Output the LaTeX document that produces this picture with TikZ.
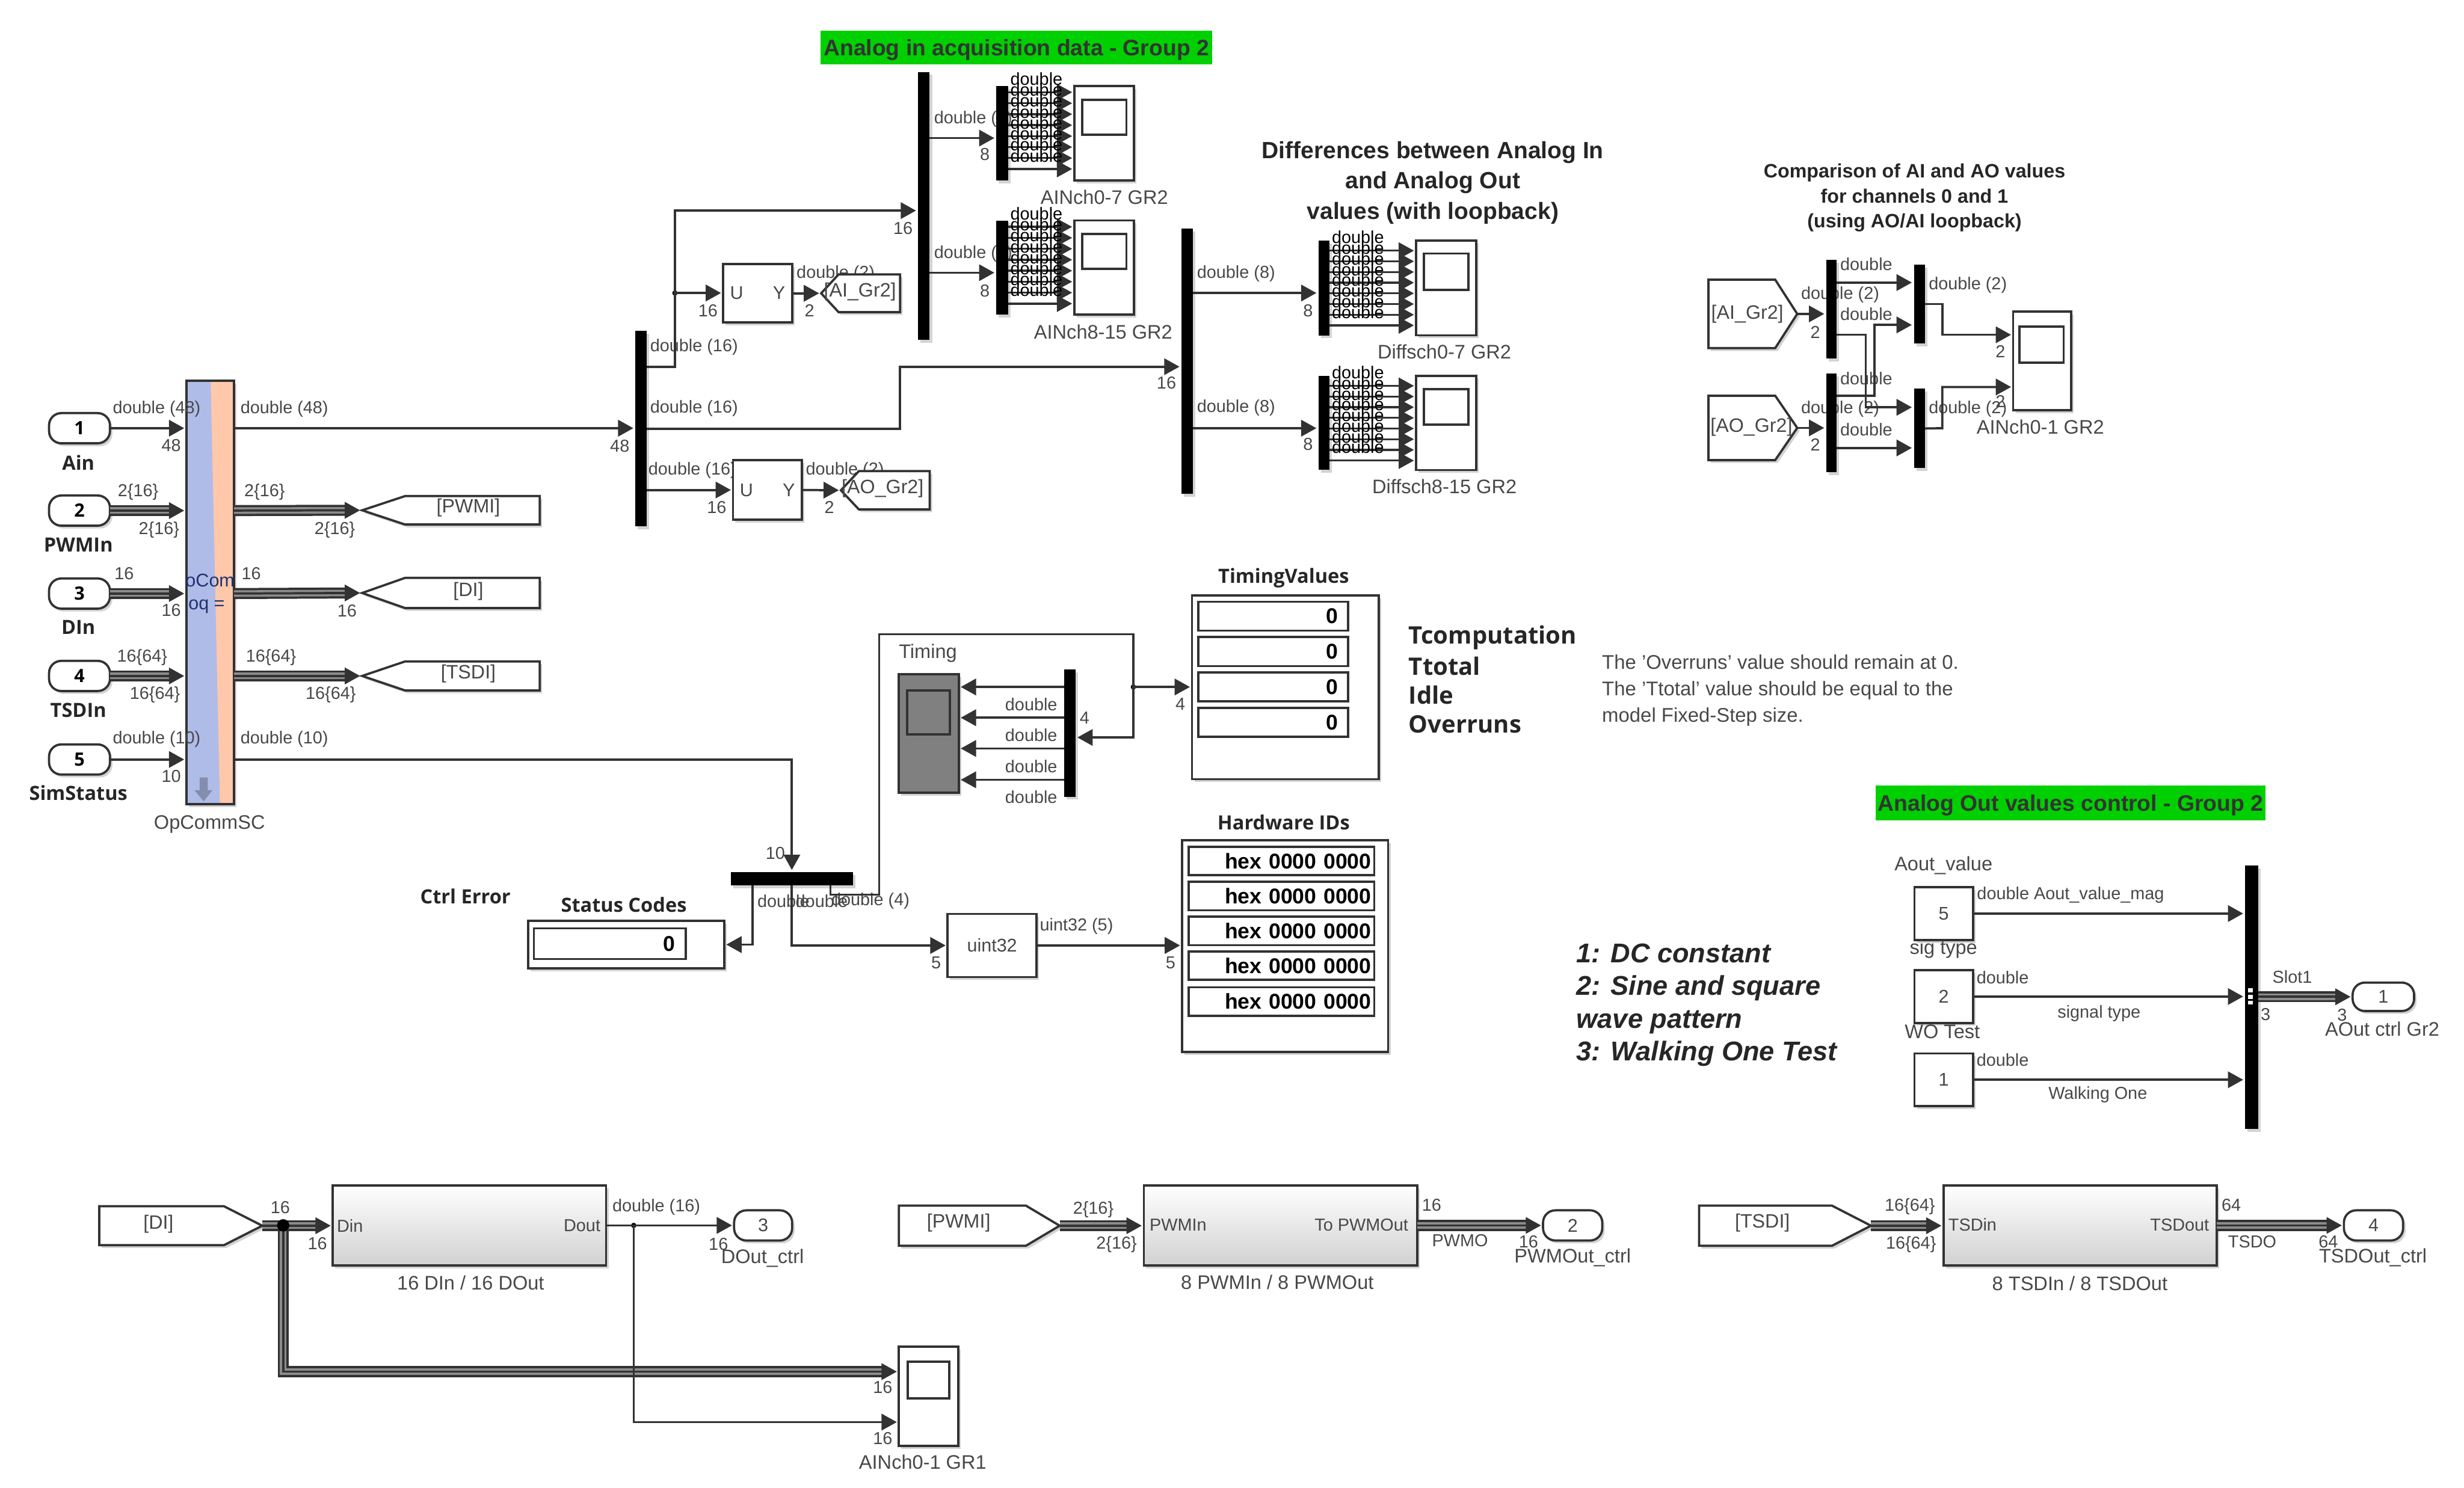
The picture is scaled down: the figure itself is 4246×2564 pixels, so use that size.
\documentclass[tikz,border=0pt]{standalone}
\usepackage{fontspec}
\setmainfont{Liberation Sans}
\newfontfamily\blockbold{Open Sans}
\usetikzlibrary{arrows.meta,calc,shadows}
\definecolor{wiregray}{RGB}{50,50,50}
\definecolor{labelgray}{RGB}{72,72,72}
\definecolor{flaggreen}{RGB}{0,208,0}
\definecolor{opblue}{RGB}{176,188,232}
\definecolor{oporange}{RGB}{255,200,170}
\definecolor{scopegray}{RGB}{128,128,128}
\definecolor{opnavy}{RGB}{30,50,110}
\tikzset{
  box/.style 2 args={minimum width={#1*0.01cm},minimum height={#2*0.01cm}},
  softshadow/.style={drop shadow={shadow xshift=1.2pt,shadow yshift=-1.4pt,opacity=.35}},
  block/.style={draw=wiregray,line width=1.1pt,fill=white,inner sep=0pt,outer sep=0pt,
    font=\fontsize{9}{11}\selectfont,text=labelgray,softshadow},
  subsys/.style={block,top color=white,middle color=white,bottom color=black!18},
  port/.style={block,rounded corners=6pt},
  bar/.style={fill=black,inner sep=0pt,outer sep=0pt,softshadow},
  cell/.style={draw=wiregray,line width=1.1pt,fill=white,inner sep=0pt,outer sep=0pt,
    align=right,text=black,font=\fontsize{10.5}{12}\bfseries\selectfont},
  screen/.style={draw=wiregray,line width=1.1pt,inner sep=0pt,outer sep=0pt,fill=white},
  jct/.style={circle,fill=black,inner sep=0pt,minimum size=2.6pt},
  wire/.style={draw=wiregray,line width=1.1pt,-{Triangle[length=7.5pt,width=8pt]},shorten >=1pt},
  fanwire/.style={wire,line width=1pt},
  plain/.style={draw=wiregray,line width=1.1pt},
  bus/.style={draw=wiregray,line width=5.4pt,
    postaction={draw=black!45,line width=3.2pt},
    postaction={draw=wiregray,line width=1.1pt}},
  sig/.style={inner sep=0pt,text=labelgray,font=\fontsize{8.5}{10}\selectfont},
  fansig/.style={sig,text=black},
  blockname/.style={sig,font=\fontsize{9.6}{11}\selectfont},
  tagtext/.style={sig,font=\fontsize{9.5}{11}\selectfont},
  tagline/.style={draw=wiregray,line width=1.1pt,fill=white,softshadow},
  boldname/.style={inner sep=0pt,text=black!85,font=\blockbold\bfseries\fontsize{9.6}{11}\selectfont},
  heading/.style={inner sep=0pt,align=center,text=black!85,font=\bfseries},
  flag/.style={fill=flaggreen,inner sep=0pt,text depth=0pt,text=black!80,font=\bfseries\fontsize{11}{13}\selectfont},
}
% goto and from tags: name, tip x, neck x, far x, top y, bottom y
\newcommand{\signaltag}[6]{
  \pgfmathsetmacro{\ymid}{(#5+#6)/2}
  \draw[tagline] (#2,\ymid) -- (#3,#5) -- (#4,#5) -- (#4,#6) -- (#3,#6) -- cycle;
  \coordinate (#1) at (#2,\ymid);
}
% three line bus with its arrow tip
\newcommand{\busrun}[2]{
  \draw[bus] #1 -- ($#2+(-22,0)$);
  \draw[wire] ($#2+(-22,0)$) -- #2;
}
% eight lines between a demux bar and a scope
\newcommand{\fanout}[5]{
  \foreach \i in {0,...,7} {
    \pgfmathsetmacro{\ysig}{#3+#4*\i}
    \pgfmathsetmacro{\ylab}{\ysig-23}
    \draw[fanwire] (#1.east |- 0,\ysig) -- (#2.west |- 0,\ysig);
    \node[fansig] (#1lab\i) at (#5,\ylab) {double};
  }
}
\begin{document}
\begin{tikzpicture}[x=0.01cm,y=-0.01cm]
  \useasboundingbox (0,0) rectangle (4246,2564);
  % labels that the blocks cover
  \foreach \x/\y/\txt [count=\k] in {
    1196/598/double (16), 1196/704/double (16), 1193/811/double (16),
    1440/472/double (2), 1456/811/double (2),
    1677/205/double (8), 1677/437/double (8),
    2130/472/double (8), 2130/703/double (8),
    3171/508/double (2), 3171/705/double (2),
    3216/455/double, 3216/541/double, 3216/652/double, 3216/740/double,
    3391/491/double (2), 3391/705/double (2),
    1350/1553/double, 1416/1553/double, 1500/1553/double (4)} {
    \node[sig] (under\k) at (\x,\y) {\txt};
  }
  % bars
  \foreach \n/\x/\y/\w/\h in {
    barA/1104.5/738.5/19/337, barB/1592/355/20/462, barC/2046/622.5/20/457,
    barAIa/1727/229.5/20/163, barAIb/1727/461/20/162,
    barDa/2281.5/496.5/19/163, barDb/2281.5/729/19/162,
    barEa/3156/533/18/170, barEb/3156/729/18/170,
    barFa/3307.5/524/19/136, barFb/3307.5/738.5/19/137,
    barSta/1364.5/1514.5/211/23, barTim/1843.5/1263.5/19/219,
    barOut/3880/1719/22/454} {
    \node[bar,box={\w}{\h}] (\n) at (\x,\y) {};
  }
  % scopes
  \foreach \n/\x/\y/\w/\h/\sx/\sy/\sw/\sh in {
    scopeAIa/1902.5/229.5/103/163/1903/202/76/60,
    scopeAIb/1902.5/461/103/162/1903/433/76/60,
    scopeDa/2492/496.5/104/163/2492/468.5/76/63,
    scopeDb/2492/729/104/162/2492/701.5/76/61,
    scopeCmp/3519/622/100/170/3518/594/76/62,
    scopeGRa/1600/2406.5/102/171/1600/2378.5/72/63} {
    \node[block,box={\w}{\h}] (\n) at (\x,\y) {};
    \node[screen,box={\sw}{\sh}] (\n scr) at (\sx,\sy) {};
  }
  \node[block,fill=scopegray,box={103}{204}] (scopeTim) at (1600.5,1264) {};
  \node[screen,fill=scopegray,box={74}{76}] (scopeTimscr) at (1600,1228) {};
  % OpComm block
  \node[block,fill=oporange,box={82}{730}] (opcomm) at (362,1021) {};
  \fill[opblue] (opcomm.north west) -- ++(42,0) -- ($(opcomm.south west)+(58,0)$) -- (opcomm.south west) -- cycle;
  \draw[plain] (opcomm.north west) rectangle (opcomm.south east);
  \fill[black!25!opblue] (344,1340) -- (358,1340) -- (358,1362) -- (366,1362) -- (351,1381) -- (335,1362) -- (344,1362) -- cycle;
  \node[inner sep=0pt,text=opnavy,font=\fontsize{9}{11}\selectfont] (opline) at (362,1000) {oCom};
  \node[inner sep=0pt,text=opnavy,font=\fontsize{9}{11}\selectfont] (opsign) at (356,1045) {oq =};
  % inports
  \foreach \n/\y/\lab/\ly in {1/738/Ain/797, 2/880/PWMIn/939, 3/1023/DIn/1081, 4/1165/TSDIn/1224, 5/1309/SimStatus/1367} {
    \node[port,box={105}{52},text=black,font=\blockbold\bfseries\fontsize{9}{11}\selectfont] (in\n) at (137,\y) {\n};
    \node[boldname] (inname\n) at (135,\ly) {\lab};
  }
  % tags
  \signaltag{gotoPWMI}{624}{698}{930}{855}{904}
  \signaltag{gotoDI}{624}{698}{930}{996}{1048}
  \signaltag{gotoTSDI}{624}{698}{930}{1140}{1190}
  \node[tagtext] (textPWMI) at (807,875) {[PWMI]};
  \node[tagtext] (textDI) at (807,1019) {[DI]};
  \node[tagtext] (textTSDI) at (807,1161) {[TSDI]};
  \draw[wire] (in1.east) -- (opcomm.west |- in1);
  \draw[wire] (in5.east) -- (opcomm.west |- in5);
  \busrun{(in2.east)}{(opcomm.west |- in2)}
  \busrun{(in3.east)}{(opcomm.west |- in3)}
  \busrun{(in4.east)}{(opcomm.west |- in4)}
  \busrun{(opcomm.east |- in2)}{(gotoPWMI)}
  \busrun{(opcomm.east |- in3)}{(gotoDI)}
  \busrun{(opcomm.east |- in4)}{(gotoTSDI)}
  \draw[wire] (opcomm.east |- in1) -- (barA.west |- in1);
  \draw[wire] (opcomm.east |- in5) -| (barSta.north);
  % U Y blocks
  \node[block,box={119}{101}] (uyA) at (1305.5,505.5) {U\hspace{14.5pt}Y};
  \node[block,box={119}{103}] (uyB) at (1322.5,844.5) {U\hspace{14.5pt}Y};
  \signaltag{gotoAI}{1415}{1445}{1551}{473}{538}
  \signaltag{gotoAO}{1449}{1480}{1602}{812}{878}
  \node[tagtext] (textAI) at (1482,503) {[AI\_Gr2]};
  \node[tagtext] (textAO) at (1521,842) {[AO\_Gr2]};
  \node[jct] (jctUa) at (1163,505) {};
  \draw[wire] (barA.east |- 0,632) -- (1163,632) |- (barB.west |- 0,363);
  \draw[wire] (jctUa.center) -- (uyA.west |- jctUa);
  \draw[wire] (uyA.east |- gotoAI) -- (gotoAI);
  \draw[wire] (barA.east |- 0,739) -- (1551,739) |- (barC.west |- 0,632);
  \draw[wire] (barA.east |- uyB) -- (uyB.west);
  \draw[wire] (uyB.east) -- (gotoAO);
  \draw[wire] (barB.east |- 0,238) -- (barAIa.west |- 0,238);
  \draw[wire] (barB.east |- 0,470) -- (barAIb.west |- 0,470);
  \draw[wire] (barC.east |- 0,505) -- (barDa.west |- 0,505);
  \draw[wire] (barC.east |- 0,738) -- (barDb.west |- 0,738);
  \fanout{barAIa}{scopeAIa}{159}{18.9}{1786}
  \fanout{barAIb}{scopeAIb}{391}{18.9}{1786}
  \fanout{barDa}{scopeDa}{432}{18.4}{2340}
  \fanout{barDb}{scopeDb}{665}{18.4}{2340}
  % comparison
  \signaltag{fromAI}{3097}{3059}{2944}{482}{600}
  \signaltag{fromAO}{3097}{3059}{2944}{682}{793}
  \node[tagtext] (textFromAI) at (3011,541) {[AI\_Gr2]};
  \node[tagtext] (textFromAO) at (3018,736) {[AO\_Gr2]};
  \draw[wire] (fromAI) -- (barEa.west |- fromAI);
  \draw[wire] (fromAO) -- (barEb.west |- fromAO);
  \draw[wire] (barEa.east |- 0,487) -- (barFa.west |- 0,487);
  \draw[wire] (barEa.east |- 0,577) -- (3215,577) -- (3215,702) -- (barFb.west |- 0,702);
  \draw[wire] (barEb.east |- 0,682) -- (3230,682) -- (3230,560) -- (barFa.west |- 0,560);
  \draw[wire] (barEb.east |- 0,772) -- (barFb.west |- 0,772);
  \draw[wire] (barFa.east) -- (3347,524) -- (3347,577) -- (scopeCmp.west |- 0,577);
  \draw[wire] (barFb.east) -- (3347,738) -- (3347,667) -- (scopeCmp.west |- 0,667);
  % timing and displays
  \node[block,box={322}{317}] (timVal) at (2215,1184.5) {};
  \foreach \n/\y in {a/1062,b/1123,c/1184,d/1245} {
    \node[cell,box={258}{50},text width=2.24cm] (timCell\n) at (2194,\y) {0};
  }
  \node[block,box={355}{365}] (hw) at (2214.5,1630.5) {};
  \foreach \n/\y in {a/1484,b/1544.5,c/1604.5,d/1664.5,e/1726} {
    \node[cell,box={320}{49},text width=3.1cm] (hwCell\n) at (2208,\y) {hex 0000 0000};
  }
  \node[block,box={338}{82}] (status) at (1079,1628) {};
  \node[cell,box={262}{53},text width=2.24cm] (statusCell) at (1051,1626.5) {0};
  \node[block,box={153}{109}] (uint) at (1709.5,1629.5) {uint32};
  \node[jct] (jctTim) at (1953,1184) {};
  \draw[plain] (1431,0 |- barSta.south) -- (1431,1542) -- (1515,1542) -- (1515,1093) -- (1953,1093) -- (jctTim.center);
  \draw[wire] (jctTim.center) -- (timVal.west |- jctTim);
  \draw[wire] (jctTim.center) -- (1953,1271) -- (barTim.east |- 0,1271);
  \draw[wire] (barSta.south) |- (uint.west);
  \draw[wire] (1297,0 |- barSta.south) |- (status.east);
  \draw[wire] (uint.east) -- (hw.west |- uint);
  \foreach \y in {1184,1237,1290,1344} {
    \draw[wire] (barTim.west |- 0,\y) -- (scopeTim.east |- 0,\y);
  }
  % slot outputs
  \foreach \n/\v/\y in {const5/5/1574.5, const2/2/1717.5, const1/1/1861} {
    \node[block,box={101}{91}] (\n) at (3349.5,\y) {\v};
    \draw[wire] (\n.east) -- (barOut.west |- \n);
  }
  \foreach \n/\y in {a/1707,b/1718,c/1728} {
    \node[fill=white,inner sep=0pt,box={8}{7}] (pin\n) at (3878,\y) {};
  }
  \node[port,box={106}{49}] (outAO) at (4107,1718) {1};
  \busrun{(barOut.east |- outAO)}{(outAO.west)}
  % bottom row
  \foreach \n/\x in {D/809,P/2206.5,T/3584.5} {
    \node[subsys,box={471}{138}] (sys\n) at (\x,2112) {};
  }
  \foreach \n/\x/\w/\v in {D/1315/100/3,P/2710/102/2,T/4090/102/4} {
    \node[port,box={\w}{52}] (out\n) at (\x,2112) {\v};
  }
  \signaltag{fromDI}{452}{386}{171}{2079}{2146}
  \signaltag{fromPW}{1826}{1768}{1549}{2078}{2147}
  \signaltag{fromTS}{3224}{3157}{2928}{2078}{2147}
  \node[tagtext] (textFromDI) at (273,2110) {[DI]};
  \node[tagtext] (textFromPW) at (1652,2108) {[PWMI]};
  \node[tagtext] (textFromTS) at (3037,2108) {[TSDI]};
  \coordinate (grIn) at (scopeGRa.west |- 0,2364);
  \node[jct,minimum size=6pt] (jctDI) at (488,2112) {};
  \node[jct] (jctDO) at (1092,2112) {};
  \draw[bus] (jctDI.center) |- ($(grIn)+(-22,0)$);
  \draw[wire] ($(grIn)+(-22,0)$) -- (grIn);
  \busrun{(fromDI)}{(sysD.west |- fromDI)}
  \node[jct,minimum size=6pt] (jctDIb) at (488,2112) {};
  \busrun{(fromPW)}{(sysP.west |- fromPW)}
  \busrun{(fromTS)}{(sysT.west |- fromTS)}
  \busrun{(sysP.east)}{(outP.west)}
  \busrun{(sysT.east)}{(outT.west)}
  \draw[wire] (sysD.east) -- (outD.west);
  \draw[wire] (jctDO.center) |- (scopeGRa.west |- 0,2451);
  % flags and headings
  \node[flag,box={675}{58}] (flagAI) at (1751.5,82) {Analog in acquisition data - Group 2};
  \node[flag,box={672}{60}] (flagAO) at (3568,1384) {Analog Out values control - Group 2};
  \node[heading,font=\bfseries\fontsize{11.5}{15}\selectfont] (headDiff) at (2469,315) {Differences between Analog In\\and Analog Out\\values (with loopback)};
  \node[heading,font=\bfseries\fontsize{9.5}{12.3}\selectfont] (headCmp) at (3299,341) {Comparison of AI and AO values\\for channels 0 and 1\\(using AO/AI loopback)};
  \node[boldname] (titleTim) at (2212,996) {TimingValues};
  \node[boldname] (titleHw) at (2212,1417) {Hardware IDs};
  \node[boldname] (titleStatus) at (1075,1559) {Status Codes};
  \node[boldname] (titleErr) at (802,1545) {Ctrl Error};
  \foreach \n/\y/\txt in {a/1099/Tcomputation,b/1148/Ttotal,c/1198/Idle,d/1248/Overruns} {
    \node[boldname,anchor=west,font=\blockbold\bfseries\fontsize{11.8}{14}\selectfont] (timName\n) at (2427,\y) {\txt};
  }
  \node[sig,anchor=north west,align=left,font=\fontsize{9.7}{13}\selectfont] (noteRun) at (2760,1128) {The 'Overruns' value should remain at 0.\\The 'Ttotal' value should be equal to the\\model Fixed-Step size.};
  \node[inner sep=0pt,anchor=west,align=left,text=black!85,font=\bfseries\itshape\fontsize{13.3}{16}\selectfont] (noteMode) at (2716,1732) {1: DC constant\\2: Sine and square\\wave pattern\\3: Walking One Test};
  % labels on top
  \foreach \x/\y/\txt [count=\k] in {
    270/705/double (48), 295/768/48, 238/848/2\{16\}, 274/913/2\{16\},
    214/989/16, 295/1052/16, 245/1133/16\{64\}, 267/1197/16\{64\},
    270/1274/double (10), 295/1338/10, 490/705/double (48),
    456/848/2\{16\}, 577/913/2\{16\}, 433/989/16, 598/1053/16,
    467/1133/16\{64\}, 570/1197/16\{64\}, 490/1274/double (10),
    1068/769/48, 1220/535/16, 1556/393/16, 1395/535/2, 1235/874/16, 1429/874/2,
    2010/660/16, 1697/266/8, 1697/501/8, 2254/535/8, 2254/766/8,
    3128/573/2, 3128/767/2, 3447/606/2, 3447/692/2,
    1336/1470/10, 1613/1659/5, 1855/1596/uint32 (5), 2017/1659/5, 2034/1213/4, 1869/1237/4,
    1777/1214/double, 1777/1267/double, 1777/1321/double, 1777/1374/double,
    3568/1543/double Aout\_value\_mag, 3451/1685/double, 3451/1827/double,
    3617/1747/signal type, 3615/1887/Walking One, 3950/1684/Slot1,
    3904/1748/3, 4036/1749/3,
    483/2081/16, 547/2143/16, 1131/2080/double (16), 1238/2144/16,
    603/2113/Din, 1003/2112/Dout, 1521/2391/16, 1521/2479/16,
    1884/2085/2\{16\}, 1924/2145/2\{16\}, 2030/2111/PWMIn, 2346/2111/To PWMOut,
    2467/2077/16, 2516/2138/PWMO, 2634/2140/16,
    3291/2080/16\{64\}, 3293/2145/16\{64\}, 3399/2111/TSDin, 3756/2111/TSDout,
    3845/2077/64, 3881/2140/TSDO, 4012/2140/64} {
    \node[sig] (over\k) at (\x,\y) {\txt};
  }
  % block names
  \foreach \x/\y/\txt [count=\k] in {
    361/1421/OpCommSC, 1903/340/AINch0-7 GR2, 1901/572/AINch8-15 GR2,
    2489/606/Diffsch0-7 GR2, 2489/838/Diffsch8-15 GR2, 3516/736/AINch0-1 GR2,
    1599/1126/Timing, 3349/1492/Aout\_value, 3349/1636/sig type, 3347/1778/WO Test,
    4105/1773/AOut ctrl Gr2, 1314/2169/DOut\_ctrl, 1590/2520/AINch0-1 GR1,
    2710/2168/PWMOut\_ctrl, 4089/2168/TSDOut\_ctrl} {
    \node[blockname] (name\k) at (\x,\y) {\txt};
  }
  \node[blockname] (nameSysD) at (811,2211) {16 DIn / 16 DOut};
  \node[blockname] (nameSysP) at (2201,2210) {8 PWMIn / 8 PWMOut};
  \node[blockname] (nameSysT) at (3584,2212) {8 TSDIn / 8 TSDOut};
\end{tikzpicture}
\end{document}
